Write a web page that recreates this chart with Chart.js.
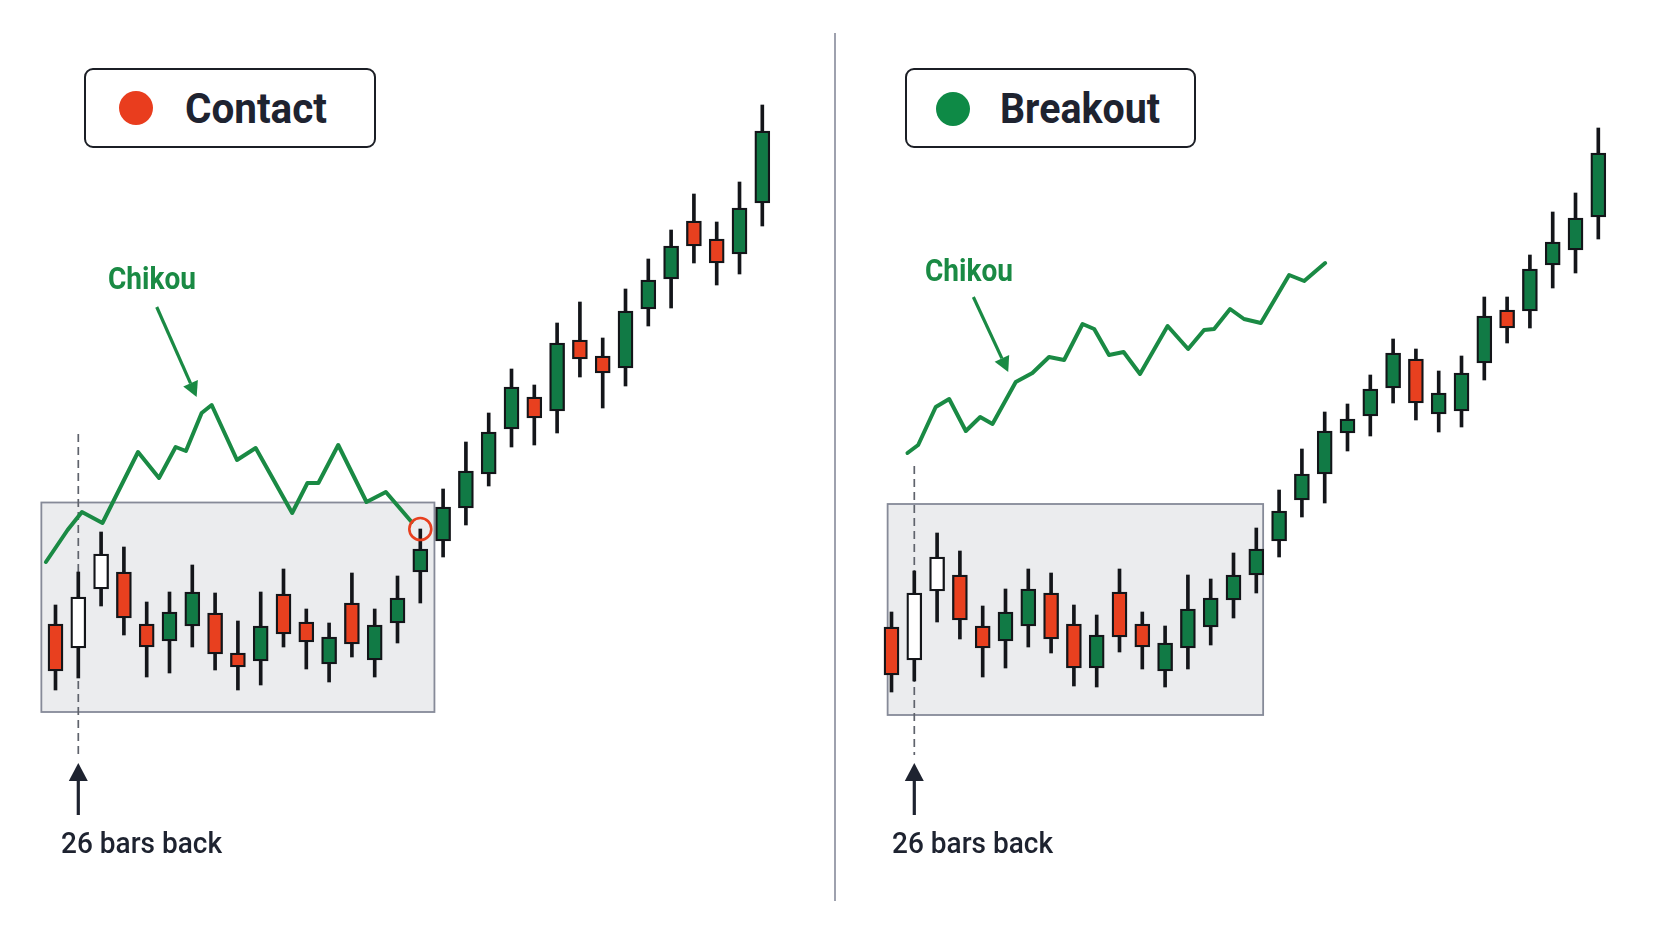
<!DOCTYPE html>
<html>
<head>
<meta charset="utf-8">
<script src="https://cdn.jsdelivr.net/npm/chart.js@4.4.1/dist/chart.umd.min.js"></script>
<style>
  html, body { margin: 0; padding: 0; background: #ffffff; }
  #stage { position: relative; width: 1672px; height: 941px; overflow: hidden; background: #ffffff; font-family: Roboto, "Noto Sans", sans-serif; }
  canvas { position: absolute; top: 0; }
  .divider { position: absolute; left: 834px; top: 33px; width: 2px; height: 868px; background: #9ea1ae; }
  .legend { position: absolute; box-sizing: border-box; top: 68px; height: 80px; border: 2.5px solid #1b1e25; border-radius: 9px; background: #ffffff; }
  .dot { position: absolute; width: 34px; height: 34px; border-radius: 50%; }
  .txt { position: absolute; white-space: nowrap; line-height: 1; display: inline-block; transform-origin: left top; }
  .title { font-size: 42px; font-weight: 700; color: #1e2330; }
  .chikou { font-size: 31px; font-weight: 700; color: #1a8a44; }
  .back { font-size: 30px; font-weight: 500; color: #1e2330; }
</style>
</head>
<body>
<div id="stage">
  <canvas id="contactChart" width="836" height="941" style="left:0px"></canvas>
  <canvas id="breakoutChart" width="836" height="941" style="left:836px"></canvas>
  <div class="divider"></div>

  <div class="legend" style="left:84px; width:292px;"></div>
  <div class="dot" style="left:118.7px; top:91.3px; background:#e93d1e;"></div>
  <span class="txt title" id="tContact" style="left:185px; top:87.9px;">Contact</span>

  <div class="legend" style="left:905px; width:291px;"></div>
  <div class="dot" style="left:936.3px; top:92px; background:#0e8a46;"></div>
  <span class="txt title" id="tBreakout" style="left:1000px; top:87.9px;">Breakout</span>

  <span class="txt chikou" id="tChikouL" style="left:108.3px; top:263.2px;">Chikou</span>
  <span class="txt chikou" id="tChikouR" style="left:925px; top:254.6px;">Chikou</span>

  <span class="txt back" id="tBackL" style="left:72px; top:828px;">26 bars back</span>
  <span class="txt back" id="tBackR" style="left:890px; top:828px;">26 bars back</span>
</div>

<script>
// ---------------- DATA ----------------
// Left panel: "Contact"
const contactOpen  = [31.7, 29.3, 35.2, 36.9, 31.7, 30.0, 31.5, 32.8, 28.8, 28.0, 34.7, 31.9, 27.7, 33.8, 28.1, 31.8, 36.9, 40.0, 43.3, 46.7, 51.2, 54.4, 53.0, 60.1, 58.5, 57.3, 63.2, 66.2, 72.0, 70.2, 68.7, 73.8];
const contactHigh  = [33.6, 36.9, 40.9, 39.4, 33.9, 34.9, 37.6, 34.8, 32.0, 34.9, 37.2, 33.2, 31.8, 36.8, 33.2, 36.5, 41.2, 45.2, 49.9, 52.8, 57.2, 55.6, 61.8, 63.9, 60.3, 65.2, 68.2, 71.1, 74.7, 71.9, 75.9, 83.6];
const contactLow   = [25.1, 26.3, 33.5, 30.6, 26.4, 26.8, 29.4, 27.1, 25.1, 25.6, 29.4, 27.2, 25.9, 28.4, 26.4, 29.8, 33.8, 38.4, 41.6, 45.5, 49.4, 49.6, 50.8, 56.4, 53.3, 55.5, 61.5, 63.3, 67.8, 65.6, 66.7, 71.5];
const contactClose = [27.0, 34.4, 38.7, 32.3, 29.4, 32.9, 34.9, 28.7, 27.4, 31.5, 30.7, 29.9, 30.4, 29.7, 31.6, 34.3, 39.2, 43.4, 47.0, 50.9, 55.4, 52.3, 59.8, 58.2, 56.8, 63.0, 66.1, 69.5, 69.5, 67.8, 73.3, 81.0];
const contactChikouBar   = [-0.42, 0.53, 1.16, 2.06, 3.62, 4.54, 5.27, 5.72, 6.41, 6.85, 7.96, 8.78, 10.38, 11.05, 11.53, 12.40, 13.64, 14.49, 15.62];
const contactChikouValue = [37.9, 41.1, 42.9, 41.8, 48.9, 46.3, 49.4, 49.0, 52.8, 53.6, 48.1, 49.3, 42.8, 45.8, 45.8, 49.6, 43.9, 44.9, 41.9];
const contactTouchBar = 16;

// Right panel: "Breakout"
const breakoutOpen  = [31.4, 28.1, 35.0, 36.6, 31.5, 30.0, 31.5, 34.8, 31.7, 27.3, 34.9, 31.7, 27.0, 29.3, 31.4, 34.1, 36.6, 40.0, 44.1, 46.7, 50.8, 52.5, 55.3, 58.2, 52.7, 53.0, 57.8, 63.1, 63.0, 67.6, 69.1, 72.4];
const breakoutHigh  = [32.9, 37.0, 40.8, 39.0, 33.5, 35.2, 37.2, 36.8, 33.6, 32.6, 37.2, 32.9, 31.5, 36.6, 36.2, 38.8, 41.3, 45.1, 49.2, 52.9, 53.7, 56.6, 60.2, 59.2, 57.0, 58.5, 64.4, 64.4, 68.6, 72.9, 74.8, 81.3];
const breakoutLow   = [24.9, 26.0, 31.9, 30.2, 26.4, 27.3, 29.4, 28.8, 25.5, 25.4, 28.9, 27.2, 25.4, 27.2, 29.6, 32.3, 34.8, 38.4, 42.4, 43.8, 49.0, 50.5, 53.8, 52.1, 50.9, 51.4, 56.1, 59.8, 61.3, 65.3, 66.8, 70.2];
const breakoutClose = [26.6, 34.8, 38.4, 32.1, 29.3, 32.9, 35.2, 30.2, 27.3, 30.6, 30.4, 29.4, 29.8, 33.2, 34.3, 36.6, 39.2, 43.0, 46.7, 51.0, 52.2, 55.2, 58.8, 53.8, 54.8, 56.8, 62.5, 61.3, 67.2, 69.9, 72.3, 78.8];
const breakoutChikouBar   = [0.70, 1.17, 1.94, 2.53, 3.26, 3.89, 4.43, 5.45, 6.18, 6.91, 7.57, 8.38, 8.89, 9.54, 10.18, 10.90, 12.11, 13.01, 13.71, 14.15, 14.85, 15.46, 16.20, 17.44, 18.10, 19.02];
const breakoutChikouValue = [48.8, 49.6, 53.4, 54.2, 51.0, 52.4, 51.7, 55.9, 56.8, 58.4, 58.1, 61.7, 61.2, 58.6, 58.9, 56.7, 61.5, 59.2, 61.1, 61.2, 63.2, 62.2, 61.8, 66.6, 66.0, 67.8];

// Bars shown hollow (the bars around "26 bars back")
const hollowBars = [1, 2];
// Bar marked "26 bars back"
const lookbackBar = 1;

// ---------------- STYLE ----------------
const RED = '#e8401f', GREEN = '#117a45', INK = '#131519', LINE = '#1a8a44';

function drawArrow(ctx, x0, y0, x1, y1, color, width, headLen, headHalf) {
  const ang = Math.atan2(y1 - y0, x1 - x0);
  const bx = x1 - headLen * Math.cos(ang), by = y1 - headLen * Math.sin(ang);
  ctx.save();
  ctx.strokeStyle = color; ctx.fillStyle = color; ctx.lineWidth = width; ctx.lineCap = 'butt';
  ctx.beginPath(); ctx.moveTo(x0, y0); ctx.lineTo(bx, by); ctx.stroke();
  ctx.beginPath();
  ctx.moveTo(x1, y1);
  ctx.lineTo(bx + headHalf * Math.sin(ang), by - headHalf * Math.cos(ang));
  ctx.lineTo(bx - headHalf * Math.sin(ang), by + headHalf * Math.cos(ang));
  ctx.closePath(); ctx.fill();
  ctx.restore();
}

const annotPlugin = {
  id: 'annot',
  beforeDatasetsDraw(chart, args, o) {
    const { ctx, scales: { x, y } } = chart;
    ctx.save();
    const x0 = x.getPixelForValue(o.box[0]), x1 = x.getPixelForValue(o.box[1]);
    const y0 = y.getPixelForValue(o.box[2]), y1 = y.getPixelForValue(o.box[3]);
    ctx.fillStyle = '#ebecee';
    ctx.fillRect(x0, y0, x1 - x0, y1 - y0);
    ctx.strokeStyle = '#868a98'; ctx.lineWidth = 1.8;
    ctx.strokeRect(x0, y0, x1 - x0, y1 - y0);
    // dashed lookback line
    const dx = x.getPixelForValue(o.dash.x);
    ctx.setLineDash([8, 5]);
    ctx.strokeStyle = '#5f636c'; ctx.lineWidth = 1.7;
    ctx.beginPath();
    ctx.moveTo(dx, y.getPixelForValue(o.dash.from));
    ctx.lineTo(dx, y.getPixelForValue(o.dash.to));
    ctx.stroke();
    ctx.restore();
  },
  afterDatasetsDraw(chart, args, o) {
    const { ctx, scales: { x, y } } = chart;
    if (o.circle) {
      ctx.save();
      ctx.strokeStyle = RED; ctx.lineWidth = 2.6;
      ctx.beginPath();
      ctx.arc(x.getPixelForValue(o.circle.x), y.getPixelForValue(o.circle.y), 11, 0, Math.PI * 2);
      ctx.stroke();
      ctx.restore();
    }
    const a = o.chikouArrow;
    drawArrow(ctx, x.getPixelForValue(a[0]), y.getPixelForValue(a[1]), x.getPixelForValue(a[2]), y.getPixelForValue(a[3]), LINE, 3.2, 15, 8);
    const u = o.upArrow;
    const ux = x.getPixelForValue(u.x);
    drawArrow(ctx, ux, y.getPixelForValue(u.from), ux, y.getPixelForValue(u.to), '#1e2330', 3.2, 18, 9.5);
  }
};

function buildChart(id, O, H, L, C, chX, chY, annot) {
  const bodyColor = (c) => {
    const i = c.dataIndex;
    if (hollowBars.includes(i)) return '#ffffff';
    return C[i] < O[i] ? RED : GREEN;
  };
  return new Chart(document.getElementById(id), {
    type: 'bar',
    data: {
      datasets: [
        {
          label: 'wick',
          data: H.map((h, i) => ({ x: i, y: [L[i], h] })),
          backgroundColor: INK, borderWidth: 0,
          barThickness: 3, grouped: false, order: 3
        },
        {
          label: 'body',
          data: O.map((op, i) => ({ x: i, y: [op, C[i]] })),
          backgroundColor: bodyColor, borderColor: INK, borderWidth: 2.3, borderSkipped: false,
          barThickness: 15, grouped: false, order: 2
        },
        {
          type: 'line', label: 'Chikou',
          data: chX.map((v, i) => ({ x: v, y: chY[i] })),
          borderColor: LINE, borderWidth: 4, pointRadius: 0, tension: 0,
          borderJoinStyle: 'round', borderCapStyle: 'round', order: 1
        }
      ]
    },
    options: {
      responsive: false, animation: false, devicePixelRatio: 1,
      layout: { padding: 0 },
      plugins: { legend: { display: false }, tooltip: { enabled: false }, annot: annot },
      scales: {
        x: { type: 'linear', min: -2.434, max: 34.232, display: false, offset: false },
        y: { type: 'linear', min: 0, max: 94.1, display: false }
      }
    },
    plugins: [annotPlugin]
  });
}

const leftChart = buildChart('contactChart', contactOpen, contactHigh, contactLow, contactClose,
  contactChikouBar, contactChikouValue, {
    box: [-0.62, 16.62, 43.85, 22.9],
    dash: { x: lookbackBar, from: 50.7, to: 18.6 },
    circle: { x: contactTouchBar, y: contactHigh[contactTouchBar] },
    chikouArrow: [4.44, 63.4, 6.19, 54.4],
    upArrow: { x: lookbackBar, from: 12.6, to: 17.8 }
  });

const rightChart = buildChart('breakoutChart', breakoutOpen, breakoutHigh, breakoutLow, breakoutClose,
  breakoutChikouBar, breakoutChikouValue, {
    box: [-0.17, 16.3, 43.7, 22.6],
    dash: { x: lookbackBar, from: 47.5, to: 18.6 },
    circle: null,
    chikouArrow: [3.59, 64.4, 5.12, 56.9],
    upArrow: { x: lookbackBar, from: 12.6, to: 17.8 }
  });

// Fit text widths to the reference proportions
function fitWidth(id, target) {
  const el = document.getElementById(id);
  const w = el.getBoundingClientRect().width;
  if (w > 0) el.style.transform = 'scaleX(' + (target / w) + ')';
}
fitWidth('tContact', 142);
fitWidth('tBreakout', 160);
fitWidth('tChikouL', 88);
fitWidth('tChikouR', 88);
fitWidth('tBackL', 161);
fitWidth('tBackR', 161);

// Place "26 bars back" labels under their arrows
document.getElementById('tBackL').style.left = (leftChart.scales.x.getPixelForValue(lookbackBar) - 17) + 'px';
document.getElementById('tBackR').style.left = (836 + rightChart.scales.x.getPixelForValue(lookbackBar) - 22.5) + 'px';
</script>
</body>
</html>
